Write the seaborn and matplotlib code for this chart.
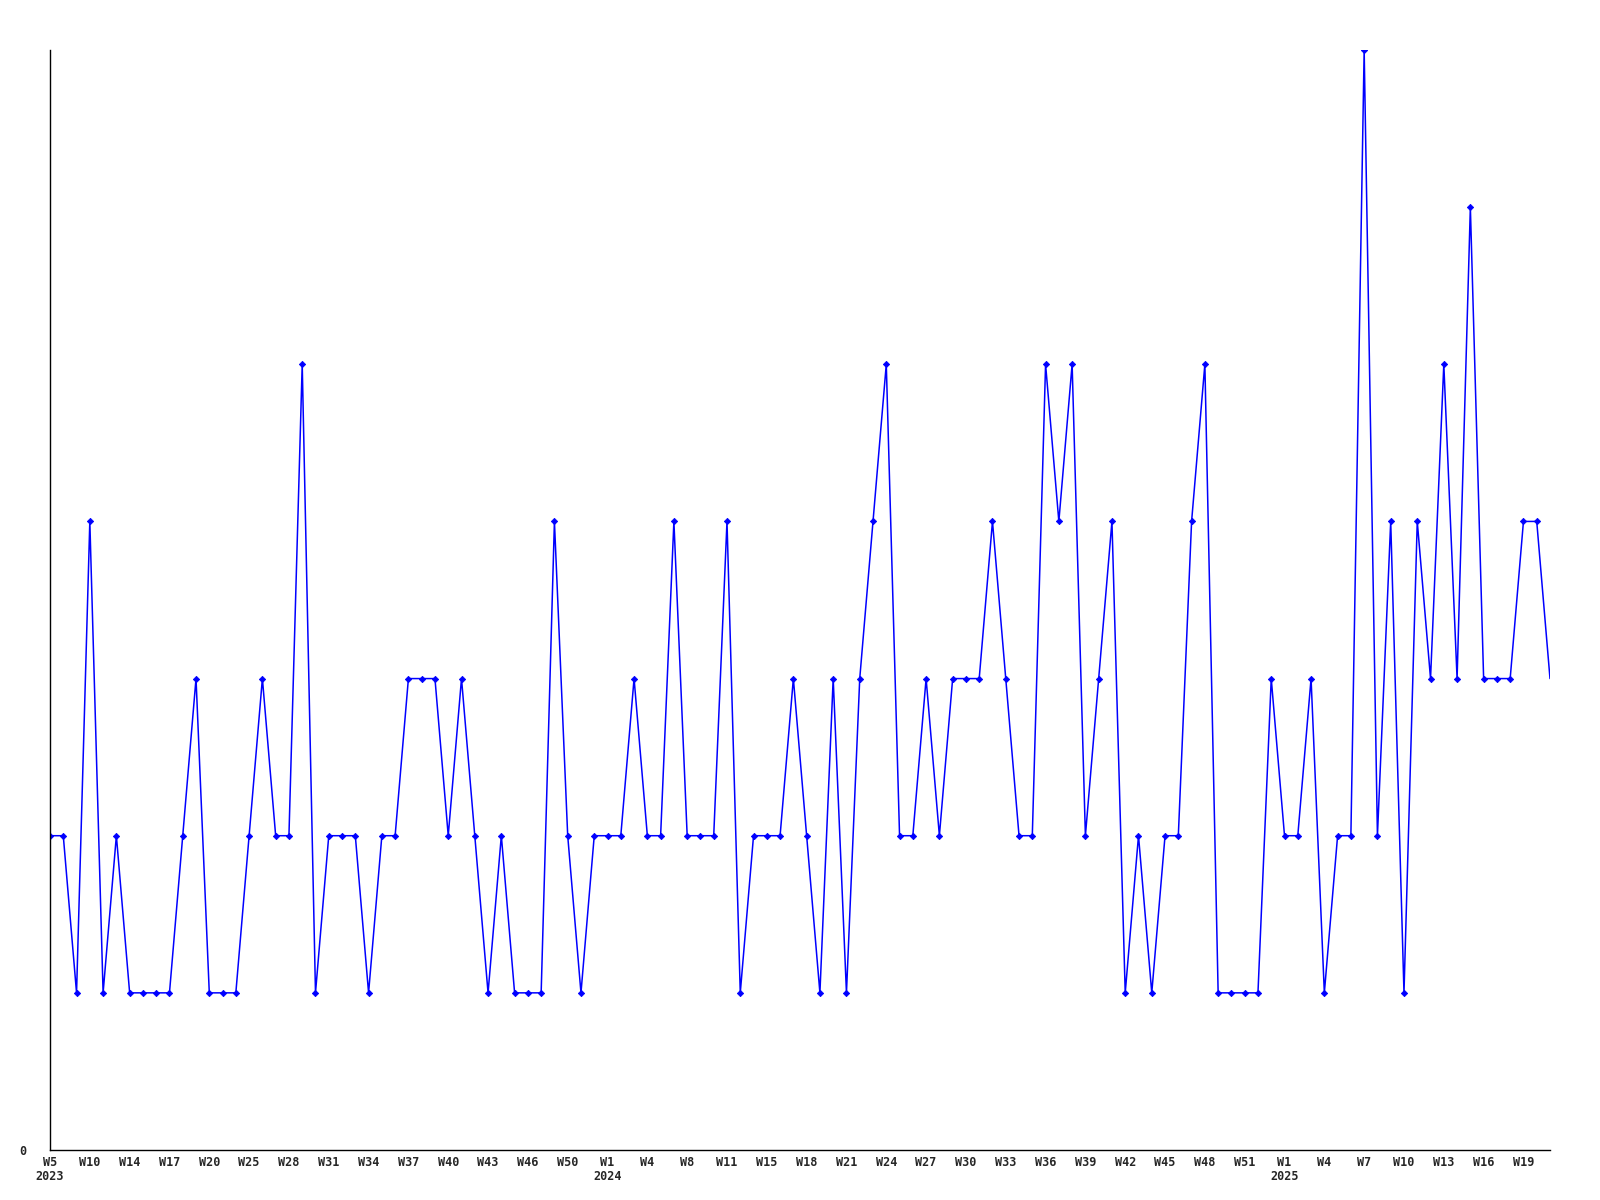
import numpy as np
import pandas as pd
import matplotlib
matplotlib.use("Agg")
import matplotlib.pyplot as plt
import seaborn as sns

values = [
    2, 2, 1, 4, 1, 2, 1, 1, 1, 1,
    2, 3, 1, 1, 1, 2, 3, 2, 2, 5,
    1, 2, 2, 2, 1, 2, 2, 3, 3, 3,
    2, 3, 2, 1, 2, 1, 1, 1, 4, 2,
    1, 2, 2, 2, 3, 2, 2, 4, 2, 2,
    2, 4, 1, 2, 2, 2, 3, 2, 1, 3,
    1, 3, 4, 5, 2, 2, 3, 2, 3, 3,
    3, 4, 3, 2, 2, 5, 4, 5, 2, 3,
    4, 1, 2, 1, 2, 2, 4, 5, 1, 1,
    1, 1, 3, 2, 2, 3, 1, 2, 2, 7,
    2, 4, 1, 4, 3, 5, 3, 6, 3, 3,
    3, 4, 4, 3,
]

tick_weeks = [
    "W5", "W10", "W14", "W17", "W20", "W25", "W28", "W31", "W34", "W37",
    "W40", "W43", "W46", "W50", "W1", "W4", "W8", "W11", "W15", "W18",
    "W21", "W24", "W27", "W30", "W33", "W36", "W39", "W42", "W45", "W48",
    "W51", "W1", "W4", "W7", "W10", "W13", "W16", "W19",
]
tick_years = {0: "2023", 14: "2024", 31: "2025"}

df = pd.DataFrame({"idx": np.arange(len(values)), "count": values})

sns.set_style("white")
plt.rcParams["font.family"] = ["DejaVu Sans Mono", "DejaVu Sans"]
plt.rcParams["font.weight"] = "bold"

fig = plt.figure(figsize=(16, 12), dpi=100)
ax = fig.add_axes([50 / 1600, 50 / 1200, 1500 / 1600, 1100 / 1200])

sns.lineplot(data=df, x="idx", y="count", ax=ax, color="#0000ff", linewidth=1.1,
             marker="D", markersize=3.2, markeredgewidth=0.6, markeredgecolor="#0000ff",
             markevery=list(range(len(values) - 1)))

ax.set_xlim(0, len(values) - 1)
ax.set_ylim(0, 7)

labels = []
for i, w in enumerate(tick_weeks):
    labels.append(w + ("\n" + tick_years[i] if i in tick_years else ""))
ax.set_xticks(np.arange(0, len(values), 3)[:len(tick_weeks)])
ax.set_xticklabels(labels, fontsize=8.5, fontweight="bold", linespacing=1.15)
for t in ax.get_xticklabels():
    t.set_x(t.get_position()[0])
ax.set_yticks([0])
ax.set_yticklabels(["0"], fontsize=8.5, fontweight="bold")
ax.tick_params(axis="both", length=0)
ax.tick_params(axis="x", pad=4)
ax.tick_params(axis="y", pad=17)

for s in ["top", "right"]:
    ax.spines[s].set_visible(False)
for s in ["left", "bottom"]:
    ax.spines[s].set_color("black")
    ax.spines[s].set_linewidth(1)

ax.set_xlabel("")
ax.set_ylabel("")

fig.savefig("out.png", dpi=100)
